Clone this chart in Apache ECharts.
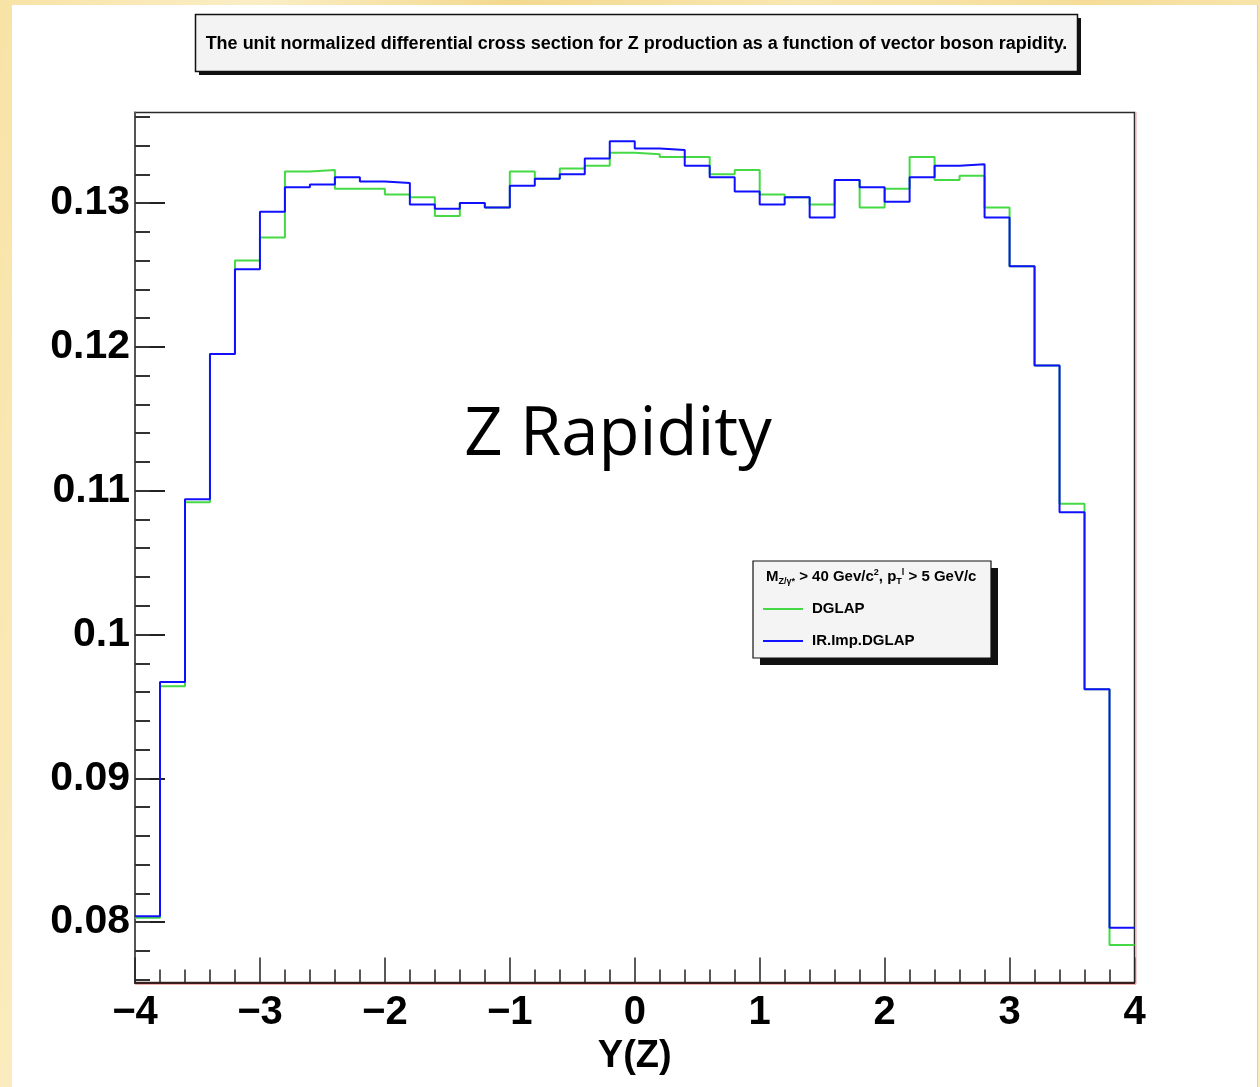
<!DOCTYPE html>
<html>
<head>
<meta charset="utf-8">
<script src="https://cdn.jsdelivr.net/npm/echarts@6/dist/echarts.min.js"></script>
<style>
  html, body { margin: 0; padding: 0; width: 1260px; height: 1087px; overflow: hidden; }
  body { background: linear-gradient(100deg, #f8e3a6 0%, #fbeec6 18%, #f3d98f 35%, #f9e7b2 55%, #f5dc98 75%, #fbecc0 100%); position: relative; }
  #paper { position: absolute; left: 12px; top: 5px; width: 1246px; height: 1082px; background: #ffffff; }
  #edge { position: absolute; left: 1257px; top: 5px; width: 1px; height: 1082px; background: #cfcfcf; }
  #chart { position: absolute; left: 0; top: 0; width: 1260px; height: 1087px; }
</style>
</head>
<body>
<div id="paper"></div>
<div id="edge"></div>
<div id="chart"></div>
<script>
// ---- data ----
const binEdges = [-4.0, -3.8, -3.6, -3.4, -3.2, -3.0, -2.8, -2.6, -2.4, -2.2,
                  -2.0, -1.8, -1.6, -1.4, -1.2, -1.0, -0.8, -0.6, -0.4, -0.2,
                   0.0,  0.2,  0.4,  0.6,  0.8,  1.0,  1.2,  1.4,  1.6,  1.8,
                   2.0,  2.2,  2.4,  2.6,  2.8,  3.0,  3.2,  3.4,  3.6,  3.8, 4.0];
const dglap = [0.0803, 0.0964, 0.1092, 0.1195, 0.1260, 0.1276, 0.1322, 0.1323, 0.1310, 0.1310,
               0.1306, 0.1304, 0.1291, 0.1300, 0.1297, 0.1322, 0.1317, 0.1324, 0.1326, 0.1335,
               0.1334, 0.1332, 0.1332, 0.1320, 0.1323, 0.1306, 0.1304, 0.1299, 0.1316, 0.1297,
               0.1310, 0.1332, 0.1316, 0.1319, 0.1297, 0.1256, 0.1187, 0.1091, 0.0962, 0.0784];
const irImpDglap = [0.0804, 0.0967, 0.1094, 0.1195, 0.1254, 0.1294, 0.1311, 0.1313, 0.1318, 0.1315,
                    0.1314, 0.1299, 0.1296, 0.1300, 0.1297, 0.1312, 0.1317, 0.1320, 0.1331, 0.1343,
                    0.1338, 0.1337, 0.1326, 0.1318, 0.1308, 0.1299, 0.1304, 0.1290, 0.1316, 0.1311,
                    0.1301, 0.1318, 0.1326, 0.1327, 0.1290, 0.1256, 0.1187, 0.1085, 0.0962, 0.0796];
const seriesNames = ['DGLAP', 'IR.Imp.DGLAP'];
const xTickValues = [-4, -3, -2, -1, 0, 1, 2, 3, 4];
const xTickLabels = ['\u22124', '\u22123', '\u22122', '\u22121', '0', '1', '2', '3', '4'];
const yTickValues = [0.08, 0.09, 0.10, 0.11, 0.12, 0.13];
const yTickLabels = ['0.08', '0.09', '0.1', '0.11', '0.12', '0.13'];
const yMinorValues = [0.076, 0.078, 0.080, 0.082, 0.084, 0.086, 0.088, 0.090, 0.092, 0.094,
                      0.096, 0.098, 0.100, 0.102, 0.104, 0.106, 0.108, 0.110, 0.112, 0.114,
                      0.116, 0.118, 0.120, 0.122, 0.124, 0.126, 0.128, 0.130, 0.132, 0.134, 0.136];
const titleText = 'The unit normalized differential cross section for Z production as a function of vector boson rapidity.';
const xAxisTitle = 'Y(Z)';
const centerLabel = 'Z Rapidity';

// histogram outline points: left edge of each bin + closing right edge
function histPoints(vals) {
  const pts = vals.map((v, i) => [binEdges[i], v]);
  pts.push([binEdges[binEdges.length - 1], vals[vals.length - 1]]);
  return pts;
}
function lookup(values, labels, v) {
  let best = 0, d = Infinity;
  values.forEach((t, i) => { const e = Math.abs(t - v); if (e < d) { d = e; best = i; } });
  return labels[best];
}

const chart = echarts.init(document.getElementById('chart'), null, { renderer: 'canvas' });
const Y_MIN = 0.0758, Y_MAX = 0.1363;
const labelFont = 'Liberation Sans';

chart.setOption({
  animation: false,
  backgroundColor: 'transparent',
  grid: { left: 135, top: 112.5, width: 999.5, height: 870, show: true, borderColor: '#2a2a2a', borderWidth: 1.5,
          backgroundColor: 'transparent', outerBoundsMode: 'none', containLabel: false },
  xAxis: [
    {
      type: 'value', min: -4, max: 4, interval: 1,
      axisLine: { show: true, onZero: false, lineStyle: { color: '#3a1c1c', width: 2 } },
      axisTick: { show: true, inside: true, length: 25, lineStyle: { color: '#222', width: 1.5 } },
      minorTick: { show: true, splitNumber: 5, length: 13, lineStyle: { color: '#222', width: 1.5 } },
      splitLine: { show: false },
      axisLabel: {
        margin: 10, color: '#000', fontFamily: labelFont, fontWeight: 'bold', fontSize: 40,
        formatter: v => lookup(xTickValues, xTickLabels, v)
      },
      name: xAxisTitle, nameLocation: 'middle', nameGap: 54,
      nameTextStyle: { color: '#000', fontFamily: labelFont, fontWeight: 'bold', fontSize: 38 }
    }
  ],
  yAxis: [
    {
      type: 'value', min: Y_MIN, max: Y_MAX, position: 'left',
      axisLine: { show: true, onZero: false, lineStyle: { color: '#555', width: 2 } },
      axisTick: { show: true, inside: true, length: 30, customValues: yTickValues, lineStyle: { color: '#222', width: 2 } },
      splitLine: { show: false },
      axisLabel: {
        margin: 5, color: '#000', fontFamily: labelFont, fontWeight: 'bold', fontSize: 41,
        padding: [9, 0, 0, 0],
        customValues: yTickValues,
        formatter: v => lookup(yTickValues, yTickLabels, v)
      }
    },
    {
      type: 'value', min: Y_MIN, max: Y_MAX, position: 'left',
      axisLine: { show: false, onZero: false },
      axisTick: { show: true, inside: true, length: 15, customValues: yMinorValues, lineStyle: { color: '#333', width: 2 } },
      splitLine: { show: false },
      axisLabel: { show: false }
    }
  ],
  legend: {
    left: 763, top: 601, orient: 'vertical', icon: 'rect', padding: 0,
    itemWidth: 40, itemHeight: 2, itemGap: 16, z: 20,
    textStyle: { color: '#000', fontFamily: labelFont, fontWeight: 'bold', fontSize: 15, lineHeight: 16, padding: [0, 0, 0, 4] },
    data: seriesNames
  },
  series: [
    {
      name: seriesNames[0], type: 'line', step: 'end', showSymbol: false, symbol: 'none',
      data: histPoints(dglap), z: 3,
      itemStyle: { color: '#45da45' },
      lineStyle: { color: '#45da45', width: 2 }
    },
    {
      name: seriesNames[1], type: 'line', step: 'end', showSymbol: false, symbol: 'none',
      data: histPoints(irImpDglap), z: 4,
      itemStyle: { color: '#1010ff' },
      lineStyle: { color: '#1010ff', width: 2 }
    }
  ],
  graphic: [
    // right frame red tint
    { type: 'line', z: 1, shape: { x1: 1136, y1: 112, x2: 1136, y2: 984 }, style: { stroke: '#f0a0a0', lineWidth: 1 } },
    { type: 'line', z: 1, shape: { x1: 135, y1: 984.5, x2: 1136, y2: 984.5 }, style: { stroke: '#f0b0b0', lineWidth: 1 } },
    // title box
    { type: 'rect', z: 5, shape: { x: 199, y: 18, width: 882, height: 57 }, style: { fill: '#111' } },
    { type: 'rect', z: 6, shape: { x: 195.5, y: 14.5, width: 882, height: 57 }, style: { fill: '#f3f3f3', stroke: '#111', lineWidth: 1.5 } },
    { type: 'text', z: 7, style: { x: 636.5, y: 44, text: titleText, textAlign: 'center', textVerticalAlign: 'middle',
        font: 'bold 18px "Liberation Sans"', fill: '#000' } },
    // legend box
    { type: 'rect', z: 5, shape: { x: 760, y: 568, width: 238, height: 97 }, style: { fill: '#111' } },
    { type: 'rect', z: 6, shape: { x: 753, y: 561, width: 238, height: 97 }, style: { fill: '#f4f4f4', stroke: '#111', lineWidth: 1.2 } },
    { type: 'text', z: 7, style: {
        x: 766, y: 577, textVerticalAlign: 'middle', fill: '#000',
        text: 'M{sub|Z/\u03b3*} > 40 Gev/c{sup|2}, p{sub|T}{sup|l} > 5 GeV/c',
        font: 'bold 15px "Liberation Sans"',
        rich: {
          sub: { fontSize: 9, fontWeight: 'bold', fontFamily: 'Liberation Sans', padding: [9, 0, 0, 0] },
          sup: { fontSize: 9, fontWeight: 'bold', fontFamily: 'Liberation Sans', padding: [0, 0, 9, 0] }
        }
      } },
    // centre label
    { type: 'text', z: 7, style: { x: 618, y: 436, text: centerLabel, textAlign: 'center', textVerticalAlign: 'middle',
        font: '67px "Open Sans"', fill: '#000' } }
  ]
});
</script>
</body>
</html>
